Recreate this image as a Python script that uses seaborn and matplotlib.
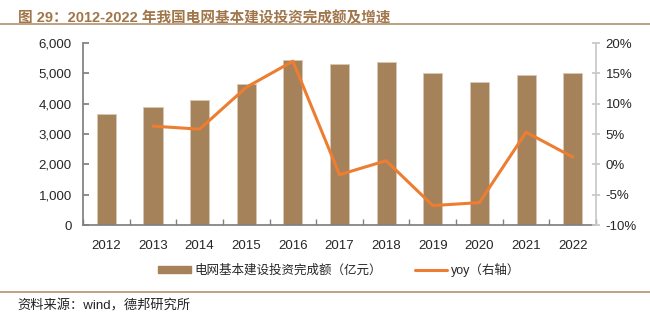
import matplotlib
matplotlib.use("Agg")
import matplotlib.pyplot as plt
import matplotlib.ticker as mticker
from matplotlib.lines import Line2D
from matplotlib.patches import Patch
import numpy as np
import pandas as pd
import seaborn as sns

years = ["2012", "2013", "2014", "2015", "2016", "2017", "2018", "2019", "2020", "2021", "2022"]
invest = [3661, 3894, 4119, 4640, 5431, 5315, 5373, 5012, 4699, 4951, 5012]
yoy = [np.nan, 6.3, 5.8, 12.7, 17.0, -1.7, 0.6, -6.8, -6.3, 5.3, 1.2]

title = "图 29：2012-2022 年我国电网基本建设投资完成额及增速"
bar_label = "电网基本建设投资完成额（亿元）"
line_label = "yoy（右轴）"
source = "资料来源：wind，德邦研究所"

sns.set_theme(style="white")
FAM = ["Liberation Sans", "Noto Sans CJK SC", "DejaVu Sans"]
plt.rcParams["font.family"] = FAM

BAR = "#A6825A"
LINE = "#ED7D31"
BROWN = "#A0764A"

df = pd.DataFrame({"year": years, "invest": invest, "yoy": yoy, "pos": np.arange(len(years))})

fig = plt.figure(figsize=(6.5, 3.26), dpi=100)
ax = fig.add_axes([0.1277, 0.3098, 0.7893, 0.5582])
sns.barplot(data=df, x="year", y="invest", color=BAR, width=0.41, saturation=1, ax=ax,
            edgecolor="#D8C8B4", linewidth=0.6)
ax.set_xlim(-0.5, len(years) - 0.5)
ax.set_ylim(0, 6000)
ax.set_yticks(range(0, 6001, 1000))
ax.yaxis.set_major_formatter(mticker.FuncFormatter(lambda v, p: f"{int(v):,}"))
ax.set_xlabel("")
ax.set_ylabel("")

ax2 = ax.twinx()
sns.lineplot(data=df.dropna(), x="pos", y="yoy", color=LINE, linewidth=2.2, ax=ax2)
ax2.set_ylim(-10, 20)
ax2.set_yticks(range(-10, 21, 5))
ax2.yaxis.set_major_formatter(mticker.FuncFormatter(lambda v, p: f"{int(v)}%"))
ax2.set_ylabel("")
ax2.set_xlabel("")
ax.set_xlim(-0.5, len(years) - 0.5)

for a in (ax, ax2):
    a.spines["top"].set_visible(False)
ax.spines["right"].set_visible(False)
ax.spines["left"].set_color("#808080")
ax.spines["bottom"].set_color("#808080")
ax2.spines["left"].set_visible(False)
ax2.spines["bottom"].set_visible(False)
ax2.spines["right"].set_color("#C8C8C8")

ax.tick_params(axis="y", direction="in", length=4, color="#808080", labelsize=9.5, left=True, pad=8)
ax.tick_params(axis="x", bottom=False, labelsize=9.5, pad=5)
ax.set_xticks(np.arange(-0.5, len(years) - 0.4, 1.0), minor=True)
ax.tick_params(axis="x", which="minor", direction="in", length=4, color="#808080", bottom=True)
ax2.tick_params(axis="y", direction="inout", length=6, color="#C8C8C8", labelsize=9.5, right=True, pad=4)

# title and rules
fig.text(0.028, 0.968, title, fontsize=10.5, fontweight="bold", color=BROWN, va="top", ha="left",
         family=FAM)
fig.add_artist(Line2D([0.0, 1.0], [0.927, 0.927], color=BROWN, linewidth=1.2, alpha=0.8))
fig.add_artist(Line2D([0.0, 1.0], [0.105, 0.105], color=BROWN, linewidth=1.2, alpha=0.8))
fig.text(0.026, 0.062, source, fontsize=9.5, color="#222222", va="center", ha="left", family=FAM)

handles = [Patch(facecolor=BAR, edgecolor=BAR), Line2D([0], [0], color=LINE, linewidth=2.2)]
fig.legend(handles, [bar_label, line_label], loc="center", bbox_to_anchor=(0.522, 0.172), ncol=2,
           frameon=False, handlelength=2.6, handleheight=0.6, columnspacing=2.6,
           handletextpad=0.3, prop={"family": FAM, "size": 9})

fig.savefig("out.png", dpi=100)
